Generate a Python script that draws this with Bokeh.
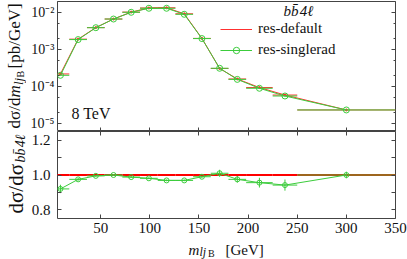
import numpy as np
from bokeh.plotting import figure
from bokeh.layouts import column, row
from bokeh.models import (Range1d, FixedTicker, LinearAxis, LogAxis, CustomJSTickFormatter,
                          Label, Legend, LegendItem, GlobalInlineStyleSheet)
from bokeh.embed import file_html
from bokeh.resources import INLINE

# ---------------- data ----------------
bin_edges = [0, 18, 36, 54, 72, 90, 108, 126, 144, 162, 180, 198, 225, 250, 350]
singlerad = [2.0e-4, 1.86e-3, 3.9e-3, 6.7e-3, 1.02e-2, 1.31e-2, 1.31e-2, 9.0e-3,
             1.98e-3, 3.1e-4, 1.55e-4, 8.9e-5, 5.5e-5, 2.3e-5]
ratio = [0.92, 0.975, 0.995, 1.0, 0.988, 0.981, 0.969, 0.969, 0.99, 1.01, 0.975,
         0.956, 0.942, 1.0]
ratio_err = [0.024, 0.008, 0.005, 0.005, 0.005, 0.005, 0.005, 0.005, 0.006, 0.02,
             0.019, 0.028, 0.032, 0.019]
x_ticks = [50, 100, 150, 200, 250, 300, 350]
log_ticks = [1e-5, 1e-4, 1e-3, 1e-2]
ratio_ticks = [0.8, 1.0, 1.2]
ratio_minor = [0.9, 1.1]

lo = np.array(bin_edges[:-1], dtype=float)
hi = np.array(bin_edges[1:], dtype=float)
ctr = (lo + hi) / 2
g = np.array(singlerad)
r = np.array(ratio)
re = np.array(ratio_err)
d = g / r
ones = np.ones_like(r)

RED = "#ff3030"
GREEN = "#3ccc3c"
FRAME = "#444444"
TXT = "#111111"
FONT = "Liberation Serif"

W = 407
STRIP = 26           # width of the left strip that holds the rotated y labels
FL = 57              # absolute x of the frame's left edge
MR = 12
PW = W - STRIP       # width of the main panels
XR = Range1d(6, 350)

PXG = (W - FL - MR) / (350 - 6)
def xd(px):
    return 6 + (px - FL) / PXG
LT, LB = np.log10(2e-2), np.log10(6e-6)
def y_top(px):
    return 10 ** (LT - (px - 1) * (LT - LB) / 130)

def style_axis(ax, labels=True, size="14px"):
    ax.axis_line_color = None
    ax.major_tick_in = 4
    ax.major_tick_out = 0
    ax.minor_tick_in = 2
    ax.minor_tick_out = 0
    ax.major_tick_line_color = FRAME
    ax.minor_tick_line_color = FRAME
    ax.major_label_text_font = FONT
    ax.major_label_text_color = TXT
    if labels:
        ax.major_label_text_font_size = size
    else:
        ax.major_label_text_font_size = "1px"
        ax.major_label_text_color = None
        ax.major_label_standoff = 0

sup_fmt = CustomJSTickFormatter(code="""
const e = Math.round(Math.log10(tick));
const s = {'-':'\u207b','0':'\u2070','1':'\u00b9','2':'\u00b2','3':'\u00b3','4':'\u2074','5':'\u2075','6':'\u2076','7':'\u2077','8':'\u2078','9':'\u2079'};
return '10' + String(e).split('').map(c => s[c]).join('');
""")

minor_log = []
for t in log_ticks + [1e-6]:
    for m in (2, 5):
        minor_log.append(t * m)

# ---------------- top panel ----------------
p1 = figure(width=PW, height=131, x_range=XR, y_range=Range1d(6e-6, 2e-2),
            y_axis_type="log", output_backend="svg", toolbar_location=None,
            min_border_left=FL - STRIP, min_border_right=MR, min_border_top=1,
            min_border_bottom=0)
p1.grid.visible = False
p1.outline_line_color = FRAME
p1.background_fill_color = None
p1.border_fill_color = None

logtick = FixedTicker(ticks=log_ticks, minor_ticks=minor_log)
xtick = FixedTicker(ticks=x_ticks, minor_ticks=[])
p1.yaxis.ticker = logtick
p1.yaxis.formatter = sup_fmt
p1.yaxis.major_label_standoff = 3
style_axis(p1.yaxis[0], True, "14px")
p1.xaxis.ticker = xtick
style_axis(p1.xaxis[0], False)
ra = LogAxis(ticker=logtick)
style_axis(ra, False)
p1.add_layout(ra, "right")

p1.segment(x0=lo, x1=hi, y0=d, y1=d, line_color=RED, line_width=1)
rl = p1.line(ctr, d, line_color=RED, line_width=1)
p1.scatter(ctr, d, size=2, color=RED)
p1.segment(x0=lo, x1=hi, y0=g, y1=g, line_color=GREEN, line_width=1)
gl = p1.line(ctr, g, line_color=GREEN, line_width=1)
gc = p1.scatter(ctr, g, size=6, marker="circle", fill_color=None, line_color=GREEN,
                line_width=1)

leg = Legend(items=[LegendItem(label="res-default", renderers=[rl]),
                    LegendItem(label="res-singlerad", renderers=[gl, gc])],
             location=(163, 73), background_fill_alpha=0, border_line_alpha=0,
             label_text_font=FONT, label_text_font_size="15px", label_text_color=TXT,
             glyph_width=32, glyph_height=16, label_height=16, label_standoff=6,
             spacing=4, padding=0, margin=0)
p1.add_layout(leg)

p1.add_layout(Label(x=xd(283), y=y_top(18), text="b\u0062\u0304\u200a4\u2113",
                    text_font=FONT, text_font_style="italic", text_font_size="15px",
                    text_color=TXT))
p1.add_layout(Label(x=xd(71), y=y_top(121), text="8 TeV", text_font=FONT,
                    text_font_size="16px", text_color=TXT))

# ---------------- bottom panel ----------------
p2 = figure(width=PW, height=105, x_range=XR, y_range=Range1d(0.75, 1.25),
            output_backend="svg", toolbar_location=None,
            min_border_left=FL - STRIP, min_border_right=MR, min_border_top=0,
            min_border_bottom=18)
p2.grid.visible = False
p2.outline_line_color = FRAME
p2.background_fill_color = None
p2.border_fill_color = None

rtick = FixedTicker(ticks=ratio_ticks, minor_ticks=ratio_minor)
p2.yaxis.ticker = rtick
p2.yaxis.formatter = CustomJSTickFormatter(code="return tick.toFixed(1);")
p2.yaxis.major_label_standoff = 7
style_axis(p2.yaxis[0], True, "15px")
p2.yaxis.minor_tick_in = 4
p2.xaxis.ticker = xtick
p2.xaxis.major_label_standoff = 4
style_axis(p2.xaxis[0], True, "15px")
ra2 = LinearAxis(ticker=rtick)
style_axis(ra2, False)
ra2.minor_tick_in = 4
p2.add_layout(ra2, "right")
ta2 = LinearAxis(ticker=xtick)
style_axis(ta2, False)
p2.add_layout(ta2, "above")

p2.segment(x0=lo, x1=hi, y0=ones, y1=ones, line_color="#ff0000", line_width=2)
p2.segment(x0=lo, x1=hi, y0=r, y1=r, line_color=GREEN, line_width=1)
p2.segment(x0=ctr, x1=ctr, y0=r - re, y1=r + re, line_color=GREEN, line_width=1)
p2.line(ctr, r, line_color=GREEN, line_width=1)
p2.scatter(ctr, r, size=5, marker="circle", fill_color=None, line_color=GREEN,
           line_width=1)

# ---------------- label strips (pixel coordinates) ----------------
def strip(w, h):
    f = figure(width=w, height=h, x_range=Range1d(0, w), y_range=Range1d(h, 0),
               output_backend="svg", toolbar_location=None, min_border=0,
               x_axis_location=None, y_axis_location=None)
    f.grid.visible = False
    f.outline_line_color = None
    f.background_fill_color = None
    f.border_fill_color = None
    return f

def txt(f, x, y, text, size, style="normal", angle=0.0):
    f.add_layout(Label(x=x, y=y, text=text, angle=angle, text_font=FONT,
                       text_font_size=size, text_font_style=style, text_color=TXT,
                       text_align="left", text_baseline="alphabetic"))

ylab = strip(STRIP, 236)
A = np.pi / 2
# top: d sigma / d m_{l j_B} [pb/GeV]
txt(ylab, 14, 128, "d\u03c3/d", "17px", angle=A)
txt(ylab, 14, 97, "m", "17px", "italic", A)
txt(ylab, 17.5, 84.5, "lj", "13px", "italic", A)
txt(ylab, 19.5, 77, "B", "10px", angle=A)
txt(ylab, 14, 68, "[pb/GeV]", "17px", angle=A)
# bottom: d sigma / d sigma_{b bbar 4l}
txt(ylab, 15, 213, "d\u03c3/d\u03c3", "21px", angle=A)
txt(ylab, 19.5, 162, "bb\u0304\u200a4\u2113", "14px", "italic", A)

# x label strip spans the full width; coordinates are absolute pixels
xlab = strip(W, 23)
Y0 = 236
txt(xlab, 188, 249.5 - Y0, "m", "15px", "italic")
txt(xlab, 199, 251.5 - Y0, "lj", "12px", "italic")
txt(xlab, 207.5, 253 - Y0, "B", "10px")
txt(xlab, 225, 249.5 - Y0, "[GeV]", "15px")

layout = column(row(ylab, column(p1, p2, spacing=0), spacing=0), xlab, spacing=0)
layout.stylesheets = [GlobalInlineStyleSheet(css="html,body{margin:0;padding:0;overflow:hidden;}")]

open("out.html", "w").write(file_html(layout, INLINE))
